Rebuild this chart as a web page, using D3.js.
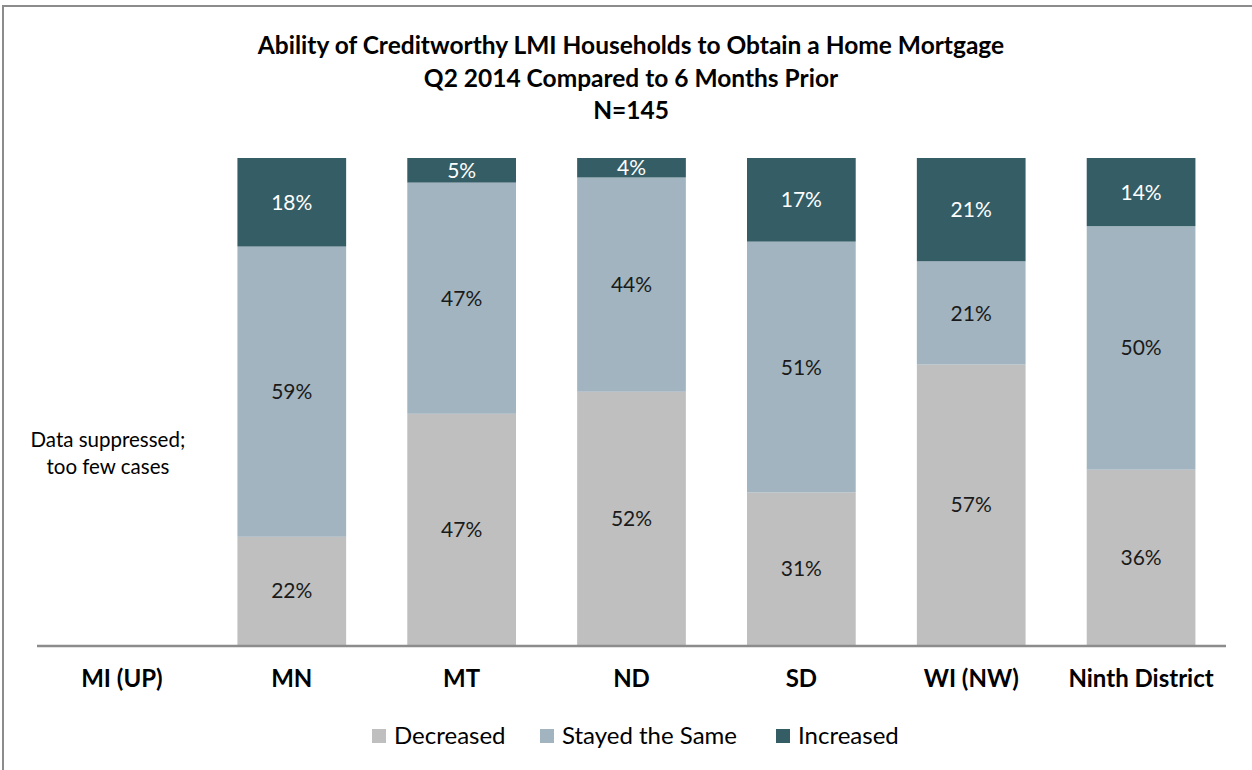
<!DOCTYPE html>
<html><head><meta charset="utf-8">
<script src="https://cdn.jsdelivr.net/npm/d3@7"></script>
<style>html,body{margin:0;padding:0;background:#fff;}svg{display:block;}</style>
</head><body><svg id="chart" width="1252" height="770"></svg>
<script>
const titleLines = ["Ability of Creditworthy LMI Households to Obtain a Home Mortgage", "Q2 2014 Compared to 6 Months Prior", "N=145"];
const categories = ["MI (UP)", "MN", "MT", "ND", "SD", "WI (NW)", "Ninth District"];
const seriesNames = ["Decreased", "Stayed the Same", "Increased"];
const decreased = [null, 22, 47, 52, 31, 57, 36];
const stayedSame = [null, 59, 47, 44, 51, 21, 50];
const increased = [null, 18, 5, 4, 17, 21, 14];
const colors = ["#BFBFBF", "#A2B4BF", "#345D66"];
const labelColors = ["#1a1a1a", "#1a1a1a", "#ffffff"];
const suppressedNote = ["Data suppressed;", "too few cases"];

const font = "Lato, 'Open Sans', sans-serif";
const svg = d3.select("#chart");

// frame
svg.append("rect").attr("x", 3).attr("y", 6).attr("width", 1300).attr("height", 900)
  .attr("fill", "none").attr("stroke", "#8c8c8c").attr("stroke-width", 2);

// title
svg.append("g").selectAll("text").data(titleLines).join("text")
  .attr("x", 631).attr("y", (d, i) => 54 + i * 32.5)
  .attr("text-anchor", "middle").attr("font-family", font).attr("font-weight", "bold")
  .attr("font-size", 24.5).attr("fill", "#000").text(d => d);

const margin = {left: 37, right: 1226, top: 158, bottom: 645};
const x = d3.scaleBand().domain(categories).range([margin.left, margin.right]).paddingInner(0.36).paddingOuter(0.18);
const y = d3.scaleLinear().domain([0, 1]).range([margin.bottom, margin.top]);

const rows = categories.map((c, i) => ({cat: c, "Decreased": decreased[i] || 0, "Stayed the Same": stayedSame[i] || 0, "Increased": increased[i] || 0, has: decreased[i] !== null}));
const stack = d3.stack().keys(seriesNames).offset(d3.stackOffsetExpand);
const series = stack(rows.filter(r => r.has));

const g = svg.append("g");
series.forEach((s, si) => {
  const sg = g.append("g");
  sg.selectAll("rect").data(s).join("rect")
    .attr("x", d => x(d.data.cat)).attr("width", x.bandwidth())
    .attr("y", d => y(d[1])).attr("height", d => y(d[0]) - y(d[1]))
    .attr("fill", colors[si]);
  sg.selectAll("text").data(s).join("text")
    .attr("x", d => x(d.data.cat) + x.bandwidth() / 2)
    .attr("y", d => (y(d[0]) + y(d[1])) / 2)
    .attr("dy", "0.36em").attr("text-anchor", "middle")
    .attr("font-family", font).attr("font-size", 21).attr("fill", labelColors[si])
    .text(d => d.data[s.key] + "%");
});

// x axis
const axis = svg.append("g").attr("transform", `translate(0,${margin.bottom + 1})`)
  .call(d3.axisBottom(x).tickSize(0).tickPadding(24));
axis.select(".domain").attr("stroke", "#8c8c8c").attr("stroke-width", 2.5).attr("d", `M${margin.left},0H${margin.right}`);
axis.selectAll("text").attr("font-family", font).attr("font-weight", "bold").attr("font-size", 24).attr("fill", "#000");

// suppressed note
const miCenter = x("MI (UP)") + x.bandwidth() / 2;
svg.append("g").selectAll("text").data(suppressedNote).join("text")
  .attr("x", miCenter - 14).attr("y", (d, i) => 447 + i * 27)
  .attr("text-anchor", "middle").attr("font-family", font).attr("font-size", 20.5).attr("fill", "#000")
  .text(d => d);

// legend
const legendX = [372, 540, 776];
const lg = svg.append("g");
seriesNames.forEach((n, i) => {
  lg.append("rect").attr("x", legendX[i]).attr("y", 729).attr("width", 14).attr("height", 14).attr("fill", colors[i]);
  lg.append("text").attr("x", legendX[i] + 22).attr("y", 744).attr("font-family", font).attr("font-size", 24).attr("fill", "#000").text(n);
});
</script></body></html>
